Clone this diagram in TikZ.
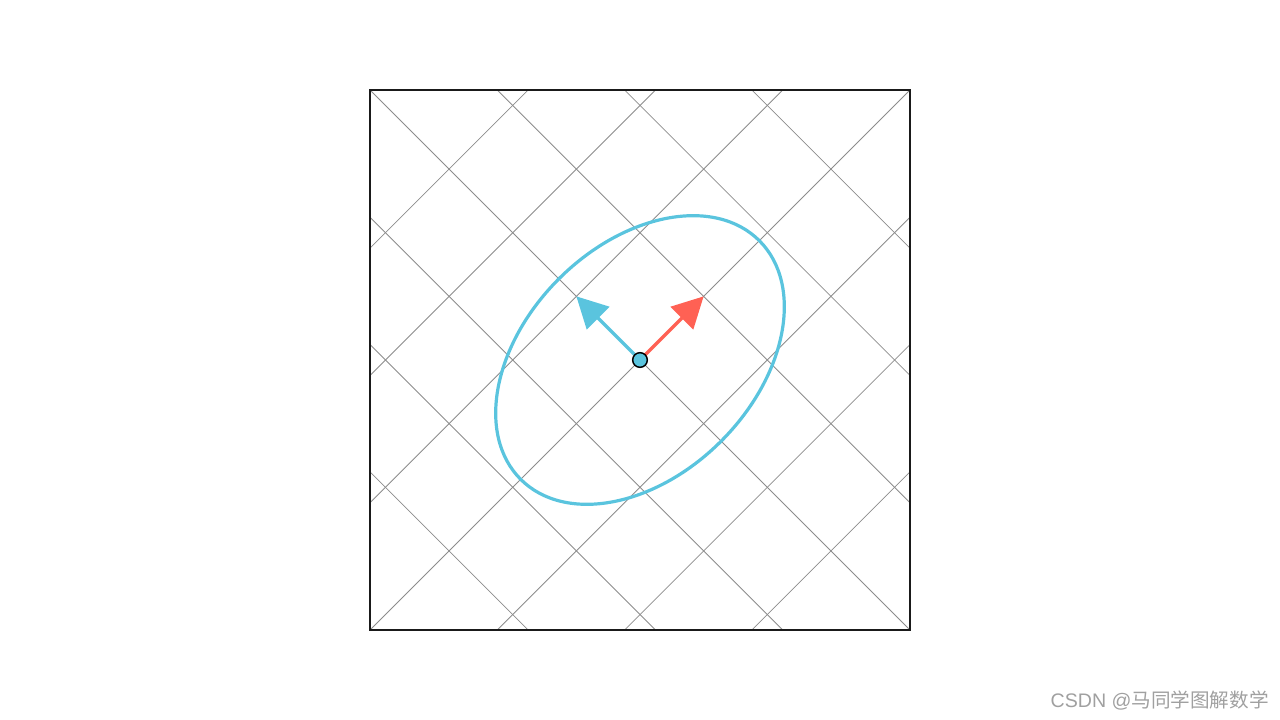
\documentclass[tikz,border=0pt]{standalone}
\usepackage{fontspec}
\newfontfamily\cjk{Noto Sans CJK SC}
\newfontfamily\latn{Liberation Sans}
\usetikzlibrary{arrows.meta,calc}
\definecolor{eblue}{RGB}{90,196,222}
\definecolor{ered}{RGB}{255,97,84}
\definecolor{gridgray}{RGB}{140,140,140}
\definecolor{frame}{RGB}{26,26,26}
\definecolor{wm}{RGB}{160,160,160}
\tikzset{
  gridline/.style={draw=gridgray,line width=0.6pt},
  framebox/.style={draw=frame,line width=1.5pt},
  vecarrow/.style={line width=2.5pt,-{Triangle[length=23.1pt,width=23.6pt]}},
  ellipseline/.style={draw=eblue,line width=2.4pt},
  centerdot/.style={circle,fill=eblue,draw=black,line width=1.1pt,minimum size=11pt,inner sep=0pt},
  watermark/.style={font=\fontsize{14.7pt}{17pt}\selectfont,text=wm,inner sep=0pt}
}
\begin{document}
\begin{tikzpicture}[x=0.75pt,y=-0.75pt]
\useasboundingbox (0,0) rectangle (1280,720);
\coordinate (o) at (640,360);
\begin{scope}
  \clip (370,90) rectangle (910,630);
  \foreach \k in {-3,...,3}{
    \pgfmathsetmacro{\dx}{63.64*\k}
    \draw[gridline] ($(o)+(\dx,-\dx)+(-700,-700)$) -- ($(o)+(\dx,-\dx)+(700,700)$);
    \draw[gridline] ($(o)+(-\dx,-\dx)+(-700,700)$) -- ($(o)+(-\dx,-\dx)+(700,-700)$);
  }
\end{scope}
\draw[framebox] (370,90) rectangle (910,630);
\draw[ellipseline] (o) ellipse [x radius=168.75, y radius=114.75, rotate=45];
\coordinate (btip) at (576.36,296.36);
\coordinate (rtip) at (703.64,296.36);
\draw[vecarrow,draw=eblue,fill=eblue] (o) -- (btip);
\draw[vecarrow,draw=ered,fill=ered] (o) -- (rtip);
\node[centerdot] (dot) at (o) {};
\node[watermark,anchor=east] (wmk) at (1269,701) {{\latn CSDN @}{\cjk 马同学图解数学}};
\end{tikzpicture}
\end{document}
